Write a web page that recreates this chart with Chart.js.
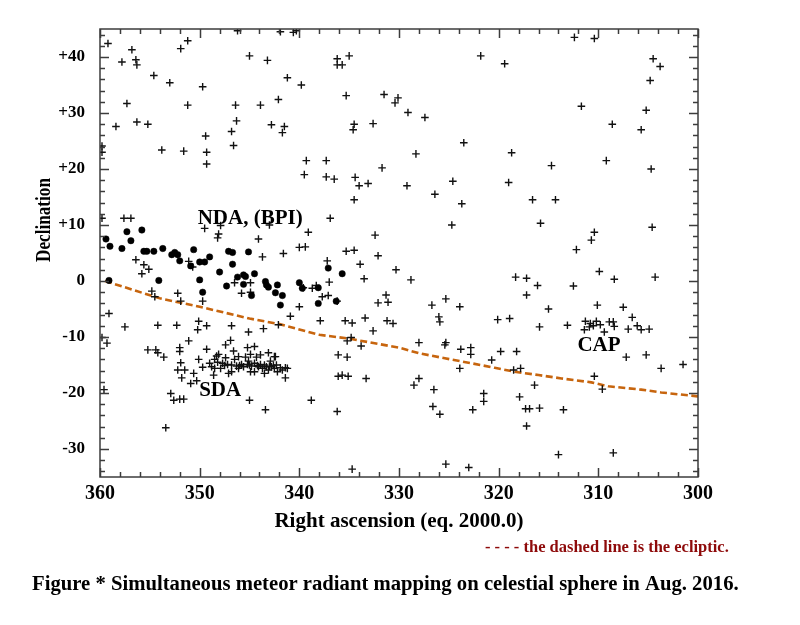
<!DOCTYPE html>
<html><head><meta charset="utf-8">
<script src="https://cdn.jsdelivr.net/npm/chart.js@4.4.1/dist/chart.umd.min.js"></script>
<style>html,body{margin:0;padding:0;background:#fff;}canvas{display:block;}</style>
</head><body>
<canvas id="c" width="800" height="625"></canvas>
<script>
// ---- data: [right ascension, declination] ----
const plusNorth = [
 [359.2,42.4],[356.8,41.3],[351.9,41.5],[351.2,42.9],[346.2,44.7],[341.9,44.5],[340.6,44.4],[340.3,44.7],
 [357.8,39.1],[356.4,39.5],[356.3,38.6],[345.0,40.2],[343.2,39.4],[336.2,39.7],[336.2,38.6],[335.7,38.6],[335.0,40.2],
 [354.6,36.7],[353.0,35.4],[349.7,34.7],[341.2,36.3],[339.8,35.0],[335.3,33.1],[331.5,33.3],[330.4,31.8],[330.1,32.7],
 [357.3,31.7],[351.2,31.4],[346.4,31.4],[343.9,31.4],[342.1,32.4],
 [358.4,27.6],[356.3,28.4],[355.2,28.0],[346.3,28.6],[346.8,26.7],[349.4,25.9],[342.8,27.9],[341.5,27.6],[341.7,26.5],
 [334.5,28.0],[334.6,27.0],[332.6,28.1],[359.8,24.1],[359.8,23.0],[346.6,24.2],[353.8,23.4],[351.6,23.2],[349.3,23.0],
 [349.3,20.9],[339.3,21.5],[337.3,21.5],[339.5,19.0],[337.3,18.6],[336.5,18.2],[334.4,18.5],[331.7,20.2],
 [312.4,43.5],[310.4,43.3],[321.8,40.2],[319.4,38.8],[304.5,39.7],[303.8,38.3],[304.8,35.8],
 [329.1,30.1],[327.4,29.2],[311.7,31.2],[305.2,30.5],[308.6,28.0],[305.7,27.0],
 [323.5,24.7],[328.3,22.7],[318.7,22.9],[314.7,20.6],[309.2,21.5],[304.7,20.0]
];
const plusMiddle = [
 [334.0,17.0],[333.1,17.4],[334.5,14.5],[359.8,11.2],[357.6,11.2],[356.9,11.2],[349.5,9.4],[347.9,9.9],[348.1,8.4],
 [348.2,7.7],[343.0,10.0],[339.1,8.7],[336.9,11.2],[344.1,7.5],[332.4,8.2],[340.0,6.0],[339.4,6.1],[335.3,5.3],
 [334.5,5.5],[341.6,4.9],[343.7,4.3],[332.1,4.5],[356.4,3.8],[355.6,2.9],[355.8,1.3],[355.1,2.1],[351.1,3.5],
 [350.7,2.5],[337.2,3.6],[333.9,3.0],[330.3,2.0],[333.5,0.4],[337.0,-0.2],[346.5,-0.3],[344.9,-0.3],[338.7,-1.3],
 [338.3,-0.8],[339.6,-1.2],[345.8,-2.2],[344.9,-2.0],[354.8,-1.8],[354.5,-2.8],[352.2,-2.2],[351.9,-3.6],[349.7,-3.6],
 [337.7,-2.8],[337.1,-2.6],[336.2,-3.6],[331.3,-2.5],[332.1,-3.9],[331.1,-3.8],[340.9,-6.3],[333.4,-6.6],[359.1,-5.8],
 [357.5,-8.2],[354.2,-7.9],[352.3,-7.9],[350.1,-7.2],[350.2,-8.7],[349.3,-8.0],[346.8,-8.0],[343.6,-8.5],[337.9,-7.1],
 [335.4,-7.1],[334.7,-7.5],[331.2,-7.1],[330.6,-7.6],[340.0,-4.6],
 [329.2,17.0],[324.6,17.8],[319.0,17.6],[326.4,15.5],[323.7,13.8],[316.6,14.5],[314.3,14.5],[324.7,10.0],[315.8,10.3],
 [304.6,9.6],[310.4,8.7],[310.7,7.3],[312.2,5.6],[328.8,0.2],[318.3,0.7],[317.2,0.5],[309.9,1.7],[308.4,0.3],[304.3,0.7],
 [316.1,-0.8],[312.5,-0.9],[317.2,-2.5],[325.3,-3.2],[326.7,-4.3],[323.9,-4.6],[315.0,-5.0],[310.1,-4.3],[307.5,-4.7],
 [306.6,-6.5],[326.0,-6.4],[325.9,-7.3],[320.1,-6.9],[318.9,-6.7],[315.9,-8.2],[313.1,-7.9]
];
const plusCAP = [
 [311.3,-7.2],[310.8,-7.6],[310.2,-7.2],[309.8,-7.8],[308.9,-7.3],[308.5,-7.3],[308.4,-8.1],[310.9,-8.2],[310.5,-8.0],
 [311.4,-8.7],[309.4,-9.1],[307.0,-8.6],[306.1,-8.0],[305.7,-8.7],[304.9,-8.6]
];
const plusSouth = [
 [328.0,-11.0],[325.3,-11.0],[325.4,-11.4],[323.8,-12.2],[322.8,-11.9],[322.8,-13.1],[323.9,-15.6],[319.8,-12.6],
 [318.2,-12.6],[320.7,-14.1],[318.5,-15.9],[317.8,-15.6],[328.5,-18.6],[328.0,-17.4],[326.5,-19.4],[326.6,-22.4],
 [325.9,-23.8],[321.5,-20.1],[321.5,-21.5],[322.6,-23.0],[317.9,-20.7],[317.3,-22.8],[316.9,-22.8],[315.9,-22.7],
 [313.5,-23.0],[317.2,-25.9],[316.4,-18.6],[314.0,-31.0],[308.5,-30.7],[325.3,-32.7],[323.0,-33.3],[310.4,-17.0],
 [309.6,-19.3],[307.2,-13.6],[305.2,-13.2],[303.7,-15.6],[301.5,-14.9],
 [345.1,-9.1],[342.1,-7.8],[359.8,-10.1],[359.3,-11.1],[355.2,-12.3],[354.4,-12.3],[354.2,-12.8],[353.6,-13.6],
 [351.1,-10.7],[352.0,-11.9],[352.0,-12.6],[351.9,-14.6],[352.2,-15.9],[351.5,-15.9],[351.8,-17.3],[350.6,-16.5],
 [350.9,-18.3],[350.3,-17.8],[350.1,-14.0],[349.7,-15.4],[349.3,-12.2],[347.4,-11.4],[346.9,-10.6],[346.6,-12.5],
 [345.2,-11.9],[344.5,-11.7],[344.9,-13.1],[343.1,-12.8],[342.4,-13.5],[352.9,-20.1],[352.6,-21.3],[352.0,-21.1],
 [351.6,-21.1],[353.4,-26.2],[359.6,-19.4],[345.0,-21.3],[343.4,-23.0],[338.8,-21.3],[336.2,-23.3],[334.7,-33.6],
 [335.2,-10.7],[334.8,-10.1],[333.8,-11.6],[332.6,-8.9],[336.1,-13.2],[335.2,-13.6],[336.1,-17.0],[335.7,-16.8],
 [335.1,-17.0],[333.3,-17.4]
];
const plusSDA = [
 [349.0,-14.7],[348.8,-15.3],[348.5,-14.0],[348.3,-13.4],[348.1,-13.1],[348.2,-14.5],[347.7,-14.7],[347.9,-15.6],
 [347.4,-13.7],[347.2,-14.9],[347.1,-16.5],[346.8,-15.0],[346.5,-14.0],[346.3,-15.2],[346.1,-13.5],[345.8,-14.9],
 [345.6,-15.3],[345.4,-13.6],[345.2,-14.9],[345.1,-14.3],[344.8,-15.2],[344.5,-14.7],[344.3,-13.6],[344.1,-15.3],
 [343.9,-14.9],[343.7,-15.6],[343.5,-15.0],[343.3,-15.3],[343.1,-15.9],[342.9,-14.3],[342.8,-15.3],[342.5,-15.6],
 [342.3,-15.0],[342.2,-16.2],[341.9,-15.5],[341.7,-15.9],[341.4,-15.5],[341.2,-15.6],[341.4,-17.3],[342.5,-13.5],
 [343.9,-13.2],[344.9,-16.2],[344.5,-16.2],[343.5,-16.5],[346.8,-16.2],[346.1,-15.6],[348.6,-16.8],[348.5,-15.6],
 [347.5,-15.1],[346.0,-15.1],[345.0,-15.0],[344.2,-15.1],[343.0,-15.2],[342.6,-15.1]
];
const dotsNDA = [
 [359.4,7.5],[359.0,6.2],[357.8,5.8],[357.3,8.8],[356.9,7.2],[355.8,9.1],[355.6,5.3],[355.3,5.3],[354.6,5.3],
 [353.7,5.8],[352.8,4.7],[352.5,5.1],[352.2,4.7],[352.0,3.6],[350.9,2.7],[350.6,5.6],[350.0,3.4],[349.5,3.4],
 [349.0,4.3],[347.1,5.3],[346.7,5.1],[345.1,5.2],[346.7,3.0],[348.0,1.6],[346.2,0.7],[345.6,1.1],[345.4,0.8],
 [344.5,1.3],[345.6,-0.6],[344.8,-2.6],[347.3,-0.9],[359.1,0.1],[354.1,0.1],[350.0,0.2],[349.7,-2.0],[343.4,-0.1],
 [343.3,-0.7],[343.1,-1.1],[342.2,-0.7],[342.4,-2.1],[341.7,-2.6],[341.9,-4.3],[340.0,-0.3],[339.7,-1.3],[338.1,-1.2],
 [338.1,-4.0],[337.1,2.3],[336.3,-3.6],[335.7,1.3]
];
const eclipticRA  = [359.5,354.0,350.0,345.0,342.0,338.0,335.0,330.0,328.0,325.4,322.7,320.4,318.4,316.0,313.7,310.7,309.0,305.7,303.7,300.0];
const eclipticDec = [0.0,-3.1,-4.6,-6.7,-7.7,-9.6,-10.3,-11.9,-12.9,-13.8,-14.7,-15.5,-16.2,-16.8,-17.4,-18.1,-18.8,-19.4,-19.9,-20.6];

const xTickValues = [360,350,340,330,320,310,300];
const yTickValues = [-30,-20,-10,0,10,20,30,40];
const yTickLabels = ['-30','-20','-10','0','+10','+20','+30','+40'];

const regionNames = ['NDA, (BPI)','SDA','CAP'];
const regionRA    = [350.2, 350.05, 312.1];
const regionDec   = [10.2, -20.5, -12.5];

const axisTitleY = 'Declination';
const axisTitleX = 'Right ascension (eq. 2000.0)';
const noteText = '- - - - the dashed line is the ecliptic.';
const captionText = 'Figure * Simultaneous meteor radiant mapping on celestial sphere in Aug. 2016.';

// ---- drawing ----
const FONT = "'Liberation Serif','Times New Roman',serif";
const toXY = p => ({x: p[0], y: p[1]});
const crosses = [].concat(plusNorth, plusMiddle, plusCAP, plusSouth, plusSDA).map(toXY);
const dots = dotsNDA.map(toXY);
const ecliptic = eclipticRA.map((x, i) => ({x, y: eclipticDec[i]}));

const frameTicks = {
  id: 'frameTicks',
  afterDatasetsDraw(chart) {
    const {ctx, chartArea: a, scales: {x, y}} = chart;
    ctx.save();
    ctx.strokeStyle = '#3c3c3c';
    ctx.lineWidth = 1.5;
    ctx.beginPath();
    for (let v = 300; v <= 360; v += 2) {
      const px = Math.round(x.getPixelForValue(v)) + 0.5;
      const len = v % 10 === 0 ? 9 : 5;
      ctx.moveTo(px, a.bottom); ctx.lineTo(px, a.bottom - len);
      ctx.moveTo(px, a.top); ctx.lineTo(px, a.top + len);
    }
    for (let v = -34; v <= 44; v += 2) {
      const py = Math.round(y.getPixelForValue(v)) + 0.5;
      const len = v % 10 === 0 ? 9 : 5;
      ctx.moveTo(a.left, py); ctx.lineTo(a.left + len, py);
      ctx.moveTo(a.right, py); ctx.lineTo(a.right - len, py);
    }
    ctx.stroke();
    ctx.strokeRect(a.left, a.top, a.right - a.left, a.bottom - a.top);
    ctx.restore();
  }
};

const texts = {
  id: 'texts',
  afterDraw(chart) {
    const {ctx, scales: {x, y}} = chart;
    ctx.save();
    ctx.fillStyle = '#000';
    ctx.textBaseline = 'alphabetic';
    ctx.textAlign = 'left';
    ctx.font = "bold 21px " + FONT;
    regionNames.forEach((t, i) => {
      ctx.fillText(t, x.getPixelForValue(regionRA[i]), y.getPixelForValue(regionDec[i]));
    });
    // y-axis title (condensed, as in the reference)
    ctx.save();
    ctx.translate(44, 220);
    ctx.rotate(-Math.PI / 2);
    ctx.scale(0.78, 1);
    ctx.textAlign = 'center';
    ctx.textBaseline = 'middle';
    ctx.font = "bold 22px " + FONT;
    ctx.fillText(axisTitleY, 0, 0);
    ctx.restore();
    // note + caption
    ctx.textBaseline = 'middle';
    ctx.fillStyle = '#8e0a0a';
    ctx.font = "bold 16.5px " + FONT;
    ctx.fillText(noteText, 485, 548);
    ctx.fillStyle = '#000';
    ctx.font = "bold 20.7px " + FONT;
    ctx.fillText(captionText, 32, 585);
    ctx.restore();
  }
};

new Chart(document.getElementById('c'), {
  type: 'scatter',
  data: {
    datasets: [
      {label: 'ecliptic', type: 'line', data: ecliptic, showLine: true, fill: false, tension: 0,
       borderColor: '#c7650e', borderWidth: 2.6, borderDash: [7, 3.5], pointRadius: 0, order: 3},
      {label: 'radiants', data: crosses, pointStyle: 'cross', pointRadius: 3.8,
       borderColor: '#111', borderWidth: 1.4, order: 2},
      {label: 'NDA', data: dots, pointStyle: 'circle', pointRadius: 3.2,
       backgroundColor: '#000', borderColor: '#000', borderWidth: 0.5, order: 1}
    ]
  },
  options: {
    responsive: false, animation: false, devicePixelRatio: 1,
    layout: {padding: {left: 0, right: 102, top: 29, bottom: 85}},
    plugins: {legend: {display: false}, tooltip: {enabled: false}},
    scales: {
      x: {
        type: 'linear', position: 'bottom', reverse: true, min: 300, max: 360,
        afterBuildTicks: s => { s.ticks = xTickValues.map(v => ({value: v})); },
        afterFit: s => { s.height = 63; },
        grid: {display: false, drawTicks: false}, border: {display: false},
        ticks: {font: {family: FONT, size: 20, weight: 'bold'}, color: '#000', padding: 5, maxRotation: 0},
        title: {display: true, text: axisTitleX, color: '#000',
                font: {family: FONT, size: 21, weight: 'bold'}, padding: {top: 0, bottom: 6}}
      },
      y: {
        type: 'linear', position: 'left', min: -35, max: 45,
        afterBuildTicks: s => { s.ticks = yTickValues.map(v => ({value: v})); },
        afterFit: s => { s.width = 100; },
        grid: {display: false, drawTicks: false}, border: {display: false},
        ticks: {font: {family: FONT, size: 17, weight: 'bold'}, color: '#000', padding: 15,
                callback: (v) => yTickLabels[yTickValues.indexOf(v)]},
        title: {display: false, text: axisTitleY}
      }
    }
  },
  plugins: [frameTicks, texts]
});
</script>
</body></html>
